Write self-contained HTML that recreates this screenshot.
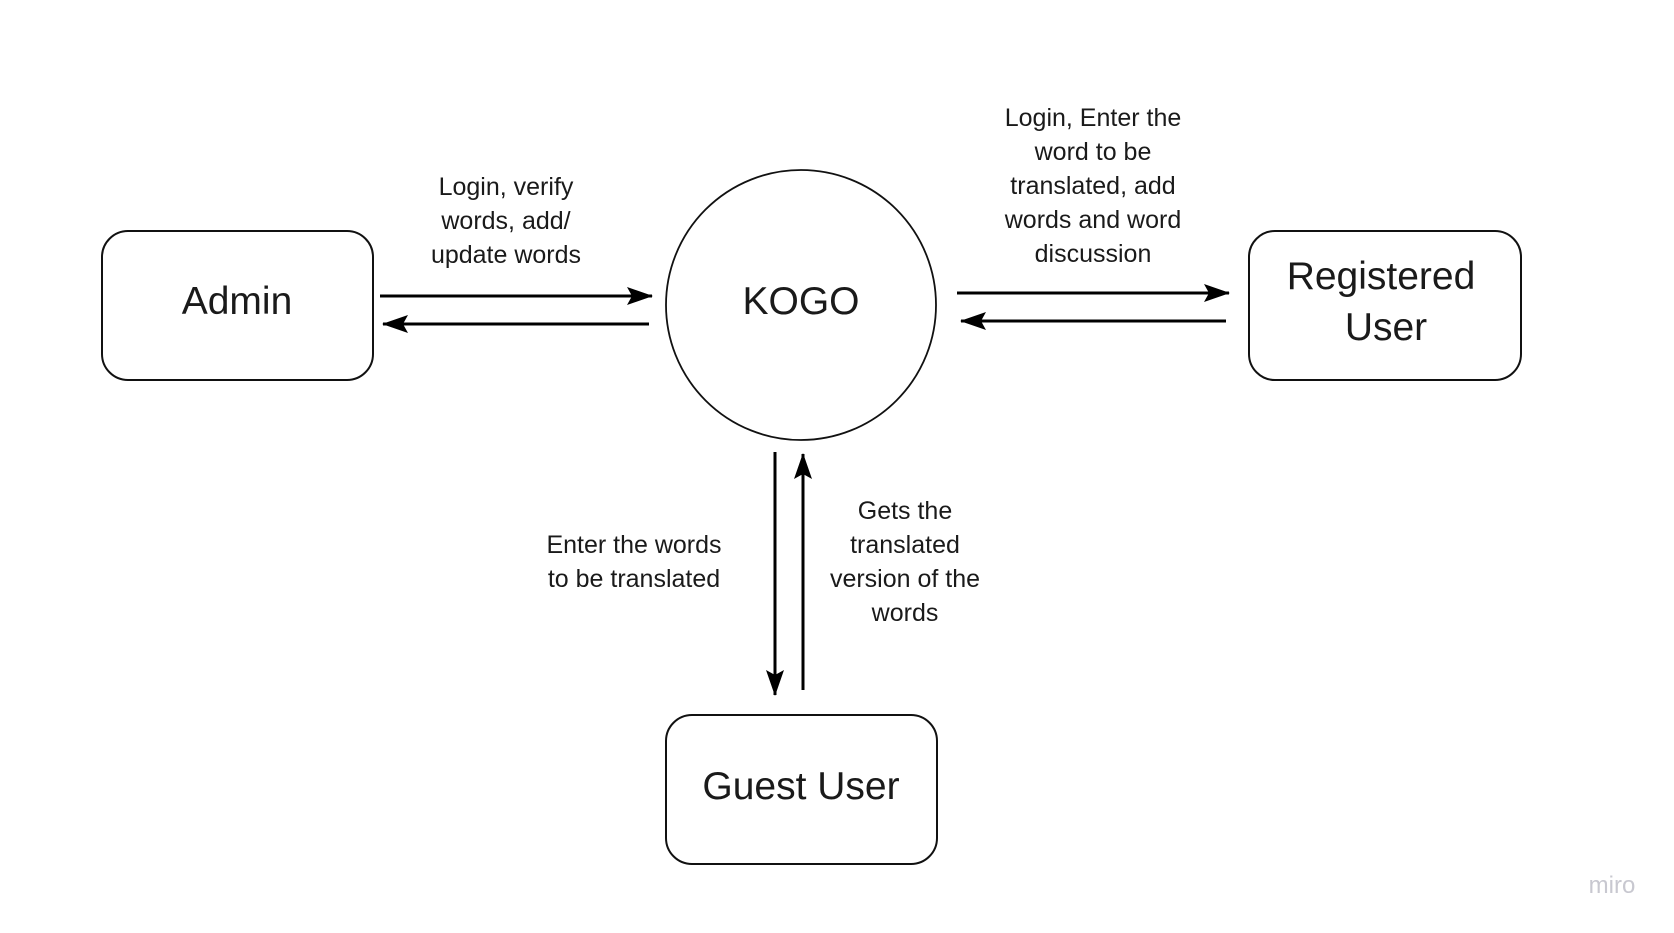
<!DOCTYPE html>
<html><head><style>
html,body{margin:0;padding:0;background:#fff;}
svg{display:block;}
text{font-family:"Liberation Sans",Arial,sans-serif;fill:#1a1a1a;}
</style></head><body>
<svg width="1674" height="933" viewBox="0 0 1674 933" xmlns="http://www.w3.org/2000/svg">
<defs>
<marker id="ah" markerWidth="26" markerHeight="18" refX="25" refY="9" orient="auto" markerUnits="userSpaceOnUse" viewBox="0 0 26 18">
<path d="M0,0 L26,9 L0,18 L5,9 z" fill="#000"/>
</marker>
</defs>
<g fill="none" stroke="#111" stroke-width="2">
<rect x="102" y="231" width="271" height="149" rx="26"/>
<rect x="1249" y="231" width="272" height="149" rx="26"/>
<rect x="666" y="715" width="271" height="149" rx="26"/>
<circle cx="801" cy="305" r="135" stroke-width="1.8"/>
</g>
<g stroke="#000" stroke-width="3" fill="none">
<line x1="380" y1="296" x2="652" y2="296" marker-end="url(#ah)"/>
<line x1="649" y1="324" x2="383" y2="324" marker-end="url(#ah)"/>
<line x1="957" y1="293" x2="1229" y2="293" marker-end="url(#ah)"/>
<line x1="1226" y1="321" x2="961" y2="321" marker-end="url(#ah)"/>
<line x1="775" y1="452" x2="775" y2="695" marker-end="url(#ah)"/>
<line x1="803" y1="690" x2="803" y2="454" marker-end="url(#ah)"/>
</g>
<g font-size="39" text-anchor="middle">
<text x="237" y="314">Admin</text>
<text x="801" y="314">KOGO</text>
<text x="1381" y="289">Registered</text>
<text x="1386" y="340">User</text>
<text x="801" y="799">Guest User</text>
</g>
<g font-size="25" text-anchor="middle">
<text x="506" y="195">Login, verify</text>
<text x="506" y="229">words, add/</text>
<text x="506" y="263">update words</text>
<text x="1093" y="126">Login, Enter the</text>
<text x="1093" y="160">word to be</text>
<text x="1093" y="194">translated, add</text>
<text x="1093" y="228">words and word</text>
<text x="1093" y="262">discussion</text>
<text x="634" y="553">Enter the words</text>
<text x="634" y="587">to be translated</text>
<text x="905" y="519">Gets the</text>
<text x="905" y="553">translated</text>
<text x="905" y="587">version of the</text>
<text x="905" y="621">words</text>
</g>
<text x="1612" y="893" font-size="24" text-anchor="middle" style="fill:#c8c8d0">miro</text>
</svg>
</body></html>
